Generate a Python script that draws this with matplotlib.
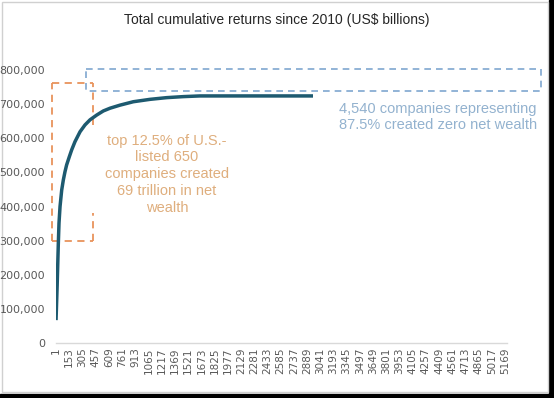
import matplotlib
matplotlib.use("Agg")
import matplotlib.pyplot as plt
from matplotlib.patches import Rectangle

# ---- data ----
rank = [1, 14, 27, 35, 47, 66, 85, 104, 123, 154, 181, 219, 277, 334, 392,
        469, 545, 622, 737, 890, 1082, 1274, 1465, 1657, 2958]
cum_returns = [67000, 170000, 290000, 351000, 400000, 448000, 478000, 502000,
               522000, 546000, 566000, 590000, 619000, 639000, 654000, 668000,
               680000, 688000, 697000, 707000, 714000, 719000, 722000, 724000,
               724000]
x_ticks = list(range(1, 5170, 152))
y_ticks = [0, 100000, 200000, 300000, 400000, 500000, 600000, 700000, 800000]
n_companies = 5190

title = "Total cumulative returns since 2010 (US$ billions)"
top_text = "top 12.5% of U.S.-\nlisted 650\ncompanies created\n69 trillion in net\nwealth"
rest_text = "4,540 companies representing\n87.5% created zero net wealth"

W, H = 554, 398
fig = plt.figure(figsize=(W / 100, H / 100), dpi=100)
fig.patch.set_facecolor("white")

# frame of the chart image
fig.add_artist(Rectangle((549 / W, 0), 5 / W, 1, transform=fig.transFigure,
                         color="black", zorder=0))
fig.add_artist(Rectangle((0, 0), 1, 4 / H, transform=fig.transFigure,
                         color="black", zorder=0))
fig.add_artist(Rectangle((1.5 / W, 6 / H), 546 / W, 390.5 / H, transform=fig.transFigure,
                         fill=False, edgecolor="#d0d0d0", lw=1, zorder=0))

ax = fig.add_axes([56 / W, (H - 343) / H, 451 / W, 273 / H])
ax.set_facecolor("none")
ax.plot(rank, cum_returns, color="#1d5a70", lw=2.5, solid_capstyle="butt",
        solid_joinstyle="round", zorder=3)

ax.set_xlim(0.5, n_companies + 0.5)
ax.set_ylim(0, 800000)
ax.set_xticks(x_ticks)
ax.set_xticklabels([str(t) for t in x_ticks], rotation=90, fontsize=7.5,
                   color="#595959", family="DejaVu Sans")
ax.set_yticks(y_ticks)
ax.set_yticklabels([f"{v:,}" for v in y_ticks], fontsize=8, color="#595959",
                   family="DejaVu Sans")
ax.tick_params(axis="both", length=0, pad=3)
ax.tick_params(axis="y", pad=8)
for s in ["top", "right", "left"]:
    ax.spines[s].set_visible(False)
ax.spines["bottom"].set_color("#d9d9d9")
ax.spines["bottom"].set_linewidth(1)

# orange dashed box around top companies
oc = "#e8935c"
okw = dict(color=oc, lw=1.3, ls=(0, (4, 3)), clip_on=False, zorder=2)
ox0, ox1, oy0, oy1 = -50, 426, 299000, 763000
ax.plot([ox0, ox1], [oy1, oy1], **okw)
ax.plot([ox0, ox1], [oy0, oy0], **okw)
ax.plot([ox0, ox0], [oy0, oy1], **okw)
ax.plot([ox1, ox1], [639000, oy1], **okw)
ax.plot([ox1, ox1], [oy0, 381000], **okw)

# blue dashed box around the rest
bc = "#7fa7cf"
bkw = dict(color=bc, lw=1.2, ls=(0, (4, 3)), clip_on=False, zorder=2)
bx0, bx1, by0, by1 = 346, 5582, 739000, 802000
ax.plot([bx0, bx1, bx1, bx0, bx0], [by1, by1, by0, by0, by1], **bkw)

ax.text(1279, 495000, top_text, ha="center", va="center", fontsize=10.5,
        color="#dfae7d", family="Liberation Sans", linespacing=1.25)
ax.text(4396, 662000, rest_text, ha="center", va="center", fontsize=10.5,
        color="#93b2cf", family="Liberation Sans", linespacing=1.2)

fig.text(277 / W, 1 - 20 / H, title, ha="center", va="center", fontsize=10,
         color="#262626", family="Liberation Sans")

fig.savefig("out.png", dpi=100)
